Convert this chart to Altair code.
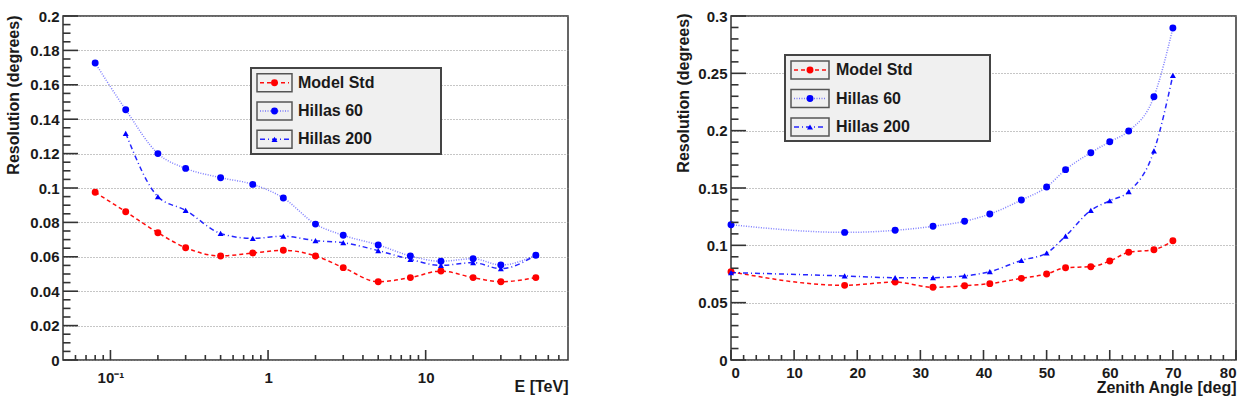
import altair as alt
import pandas as pd

# ---------------- data ----------------
series_names = ["Model Std", "Hillas 60", "Hillas 200"]

# angular resolution vs. energy
energy_tev = [0.08, 0.125, 0.2, 0.3, 0.5, 0.8, 1.25, 2, 3, 5, 8, 12.5, 20, 30, 50]
e_model_std = [0.0975, 0.0862, 0.0740, 0.0653, 0.0605, 0.0622, 0.0638, 0.0605,
               0.0537, 0.0455, 0.0479, 0.0517, 0.0479, 0.0455, 0.0479]
e_hillas_60 = [0.1727, 0.1455, 0.1200, 0.1114, 0.1060, 0.1021, 0.0942, 0.0790,
               0.0725, 0.0669, 0.0605, 0.0574, 0.0589, 0.0552, 0.0609]
energy_tev_h200 = [0.125, 0.2, 0.3, 0.5, 0.8, 1.25, 2, 3, 5, 8, 12.5, 20, 30, 50]
e_hillas_200 = [0.1318, 0.0950, 0.0870, 0.0736, 0.0707, 0.0720, 0.0694,
                0.0682, 0.0636, 0.0585, 0.0550, 0.0566, 0.0531, 0.0610]

# angular resolution vs. zenith angle
zenith_deg = [0, 18, 26, 32, 37, 41, 46, 50, 53, 57, 60, 63, 67, 70]
z_model_std = [0.0770, 0.0651, 0.0680, 0.0634, 0.0648, 0.0666, 0.0712,
               0.0750, 0.0805, 0.0814, 0.0863, 0.0939, 0.0962, 0.1040]
z_hillas_60 = [0.1180, 0.1113, 0.1131, 0.1166, 0.1210, 0.1273, 0.1395,
               0.1509, 0.1660, 0.1808, 0.1904, 0.1997, 0.2296, 0.2895]
z_hillas_200 = [0.0762, 0.0733, 0.0718, 0.0718, 0.0733, 0.0770, 0.0869,
                0.0933, 0.1081, 0.1305, 0.1389, 0.1468, 0.1823, 0.2483]

# axis tick values
e_major = [0.1, 1, 10]
e_minor = [m * 10 ** k for k in (-2, -1, 0, 1) for m in range(2, 10)
           if 0.05 < m * 10 ** k < 80]
e_res_major = [round(0.02 * i, 3) for i in range(11)]
e_res_minor = [round(0.005 * i, 4) for i in range(41) if i % 4]
z_major = [10 * i for i in range(9)]
z_minor = [2 * i for i in range(41) if i % 5]
z_res_major = [round(0.05 * i, 3) for i in range(7)]
z_res_minor = [round(0.01 * i, 3) for i in range(31) if i % 5]

# ---------------- styles ----------------
FONT = "Liberation Sans"
INK = "#333333"
STYLE = {
    "Model Std": dict(color="#ff0000", dash=[4, 3], shape="circle", size=48, lop=0.95),
    "Hillas 60": dict(color="#0000ff", dash=[1, 1.5], shape="circle", size=48, lop=0.5),
    "Hillas 200": dict(color="#0000ff", dash=[5, 3, 1, 3], shape="triangle-up", size=36, lop=0.85),
}

W, H = 505, 344


def make_panel(xs, ys, x_scale, y_scale, x_axis, y_axis,
               x_major, x_minor, y_major, y_minor, legend):
    def X():
        return alt.X("x:Q", scale=x_scale, axis=x_axis)

    def Y():
        return alt.Y("y:Q", scale=y_scale, axis=y_axis)

    layers = []
    # curves and markers
    for name in series_names:
        st = STYLE[name]
        df = pd.DataFrame({"x": xs[name], "y": ys[name]})
        base = alt.Chart(df).encode(x=X(), y=Y())
        layers.append(base.mark_line(color=st["color"], strokeDash=st["dash"],
                                     strokeWidth=1.5, opacity=st["lop"],
                                     interpolate="monotone"))
        layers.append(base.mark_point(shape=st["shape"], filled=True, opacity=1,
                                      color=st["color"], size=st["size"]))

    # inward ticks drawn on the frame
    for vals, length in ((y_major, 15), (y_minor, 7.5)):
        layers.append(alt.Chart(pd.DataFrame({"y": vals})).mark_rule(
            color=INK, strokeWidth=1.6).encode(
            y=Y(), x=alt.value(0), x2=alt.value(length)))
    for vals, length in ((x_major, 10), (x_minor, 5)):
        layers.append(alt.Chart(pd.DataFrame({"x": vals})).mark_rule(
            color=INK, strokeWidth=1.6).encode(
            x=X(), y=alt.value(H), y2=alt.value(H - length)))

    # legend box
    (fx0, fx1, fy0, fy1), rows, (bx0, bx1), tx = legend
    one = pd.DataFrame({"series": [""]})
    layers.append(alt.Chart(one).mark_rect(fill="#f0f0f0", stroke="#444444",
                                           strokeWidth=2).encode(
        x=alt.value(fx0), x2=alt.value(fx1), y=alt.value(fy0), y2=alt.value(fy1)))
    for name, ry in zip(series_names, rows):
        st = STYLE[name]
        entry = alt.Chart(pd.DataFrame({"series": [name]}))
        layers.append(entry.mark_rect(fill="#f0f0f0", stroke="#555555",
                                      strokeWidth=1.5).encode(
            x=alt.value(bx0), x2=alt.value(bx1),
            y=alt.value(ry - 9), y2=alt.value(ry + 9)))
        layers.append(entry.mark_rule(color=st["color"], strokeDash=st["dash"],
                                      strokeWidth=1.5, opacity=st["lop"]).encode(
            x=alt.value(bx0 + 3), x2=alt.value(bx1 - 3), y=alt.value(ry)))
        layers.append(entry.mark_point(shape=st["shape"], filled=True, opacity=1,
                                       color=st["color"], size=st["size"]).encode(
            x=alt.value((bx0 + bx1) / 2), y=alt.value(ry)))
        layers.append(entry.mark_text(align="left", baseline="middle", font=FONT,
                                      fontWeight="bold", fontSize=16,
                                      color="#1a1a1a").encode(
            x=alt.value(tx), y=alt.value(ry), text="series:N"))

    return alt.layer(*layers).properties(width=W, height=H)


axis_common = dict(
    labelFont=FONT, labelFontWeight="bold", labelFontSize=15, labelColor="#1a1a1a",
    titleFont=FONT, titleFontWeight="bold", titleFontSize=16, titleColor="#1a1a1a",
    domain=False, ticks=False,
)

# left panel: resolution vs energy (log x)
left = make_panel(
    xs={"Model Std": energy_tev, "Hillas 60": energy_tev, "Hillas 200": energy_tev_h200},
    ys={"Model Std": e_model_std, "Hillas 60": e_hillas_60, "Hillas 200": e_hillas_200},
    x_scale=alt.Scale(type="log", domain=[0.05, 80], nice=False),
    y_scale=alt.Scale(domain=[0, 0.2], nice=False, zero=False),
    x_axis=alt.Axis(values=e_major, grid=False, title="E [TeV]",
                    labelExpr="datum.value < 0.5 ? '10⁻¹' : format(datum.value, 'd')",
                    labelPadding=10, titleX=W, titleY=26, titleAlign="right",
                    titleBaseline="middle", **axis_common),
    y_axis=alt.Axis(values=e_res_major, format="~g", grid=True, gridDash=[1, 2],
                    gridColor="#8c8c8c", gridWidth=1, title="Resolution (degrees)",
                    labelPadding=4, titleX=-50, titleY=-1, titleAlign="right",
                    titleBaseline="middle", **axis_common),
    x_major=e_major, x_minor=e_minor, y_major=e_res_major, y_minor=e_res_minor,
    legend=((188, 378, 52, 138), (66.7, 95.0, 123.3), (194, 229), 235),
)

# right panel: resolution vs zenith angle
right = make_panel(
    xs={n: zenith_deg for n in series_names},
    ys={"Model Std": z_model_std, "Hillas 60": z_hillas_60, "Hillas 200": z_hillas_200},
    x_scale=alt.Scale(domain=[0, 80], nice=False),
    y_scale=alt.Scale(domain=[0, 0.3], nice=False, zero=False),
    x_axis=alt.Axis(values=z_major, format="d", grid=False, title="Zenith Angle [deg]",
                    labelPadding=5, titleX=W, titleY=27, titleAlign="right",
                    titleBaseline="middle", **axis_common),
    y_axis=alt.Axis(values=z_res_major, format="~g", grid=True, gridDash=[1, 2],
                    gridColor="#8c8c8c", gridWidth=1, title="Resolution (degrees)",
                    labelPadding=4, titleX=-48, titleY=-3, titleAlign="right",
                    titleBaseline="middle", **axis_common),
    x_major=z_major, x_minor=z_minor, y_major=z_res_major, y_minor=z_res_minor,
    legend=((54, 259, 39, 125), (54.0, 82.5, 111.0), (60, 98), 105),
)

chart = alt.hconcat(left, right, spacing=163, bounds="flush").properties(
    padding={"left": 4, "top": 8, "right": 0, "bottom": 0},
    background="white",
).configure_view(stroke=INK, strokeWidth=1.5)

chart.save("out.html", embed_options={"renderer": "svg", "actions": False})
